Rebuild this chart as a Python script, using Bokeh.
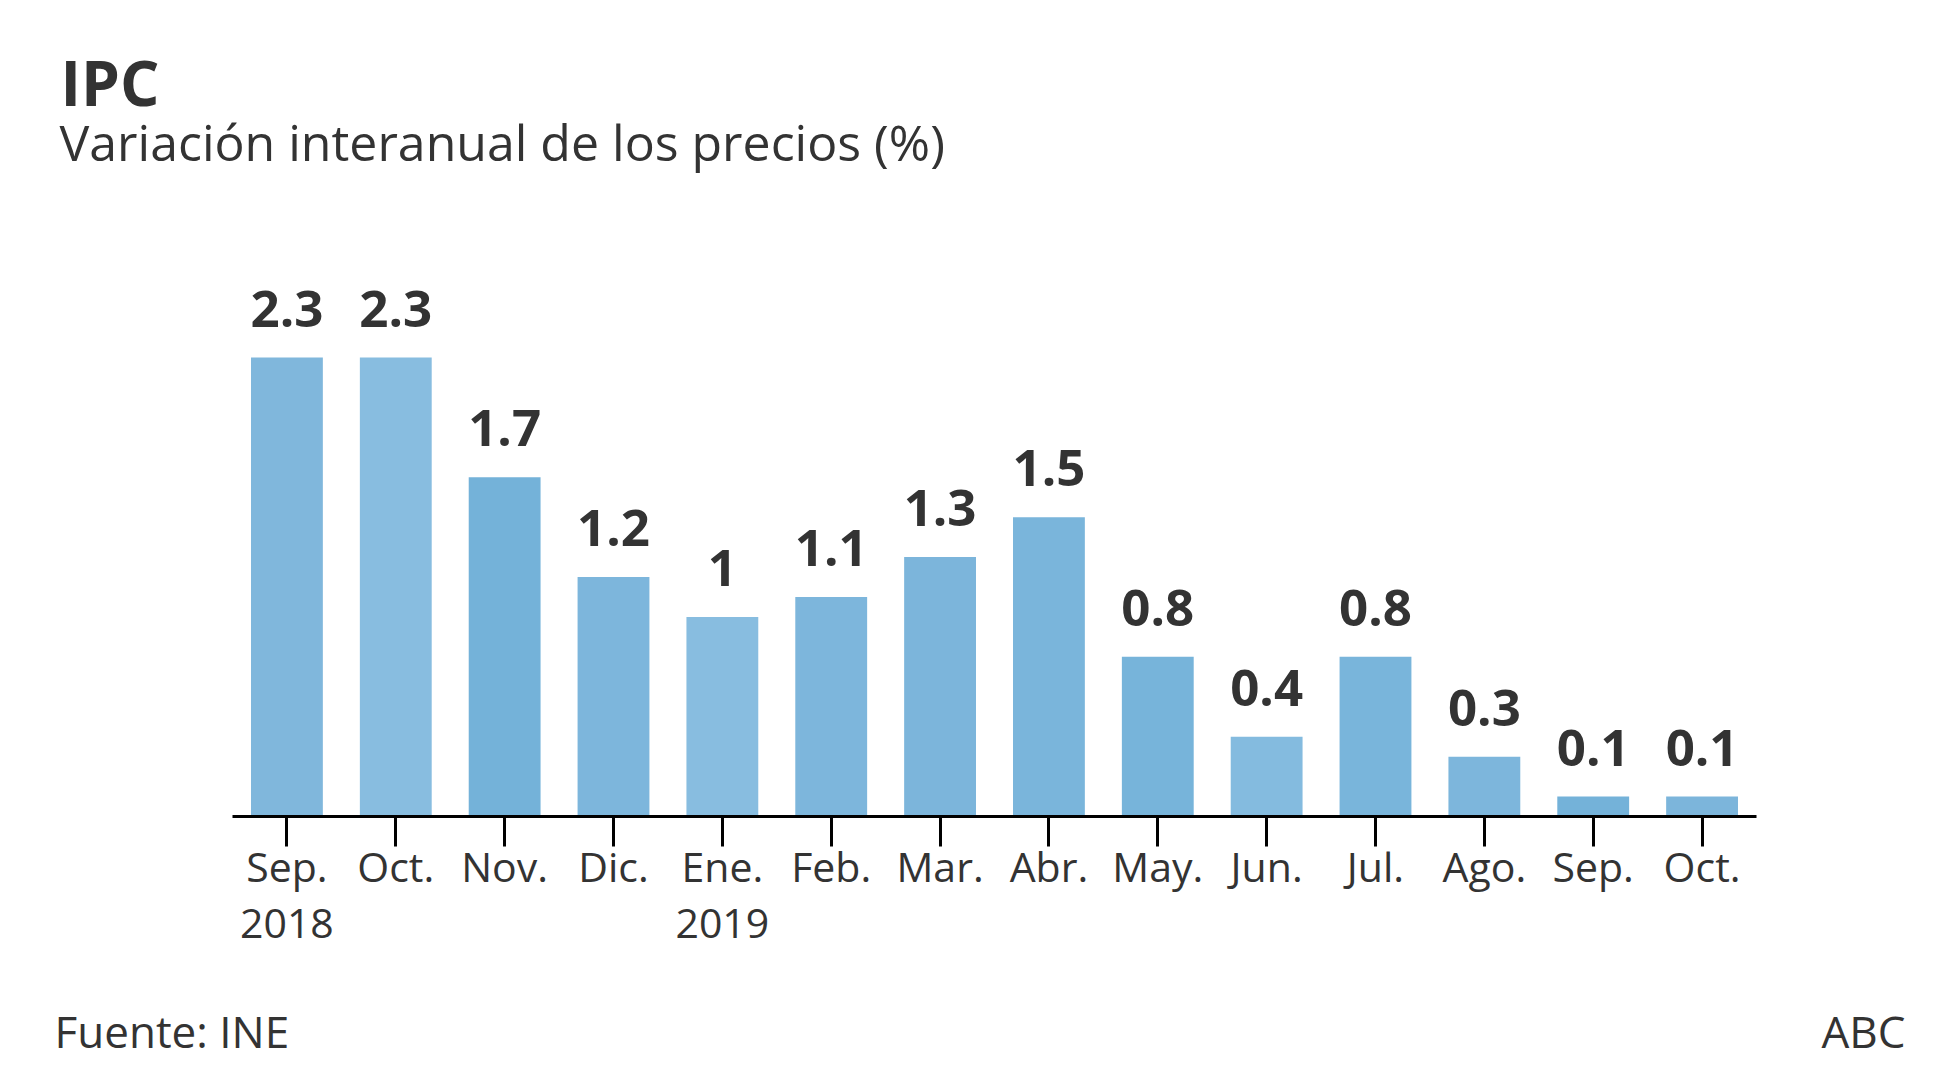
from bokeh.plotting import figure
from bokeh.models import ColumnDataSource, Range1d, FixedTicker
from bokeh.layouts import column
from bokeh.core.properties import value
from bokeh.embed import file_html
from bokeh.resources import INLINE

# ---- data ----
periods = ["2018-09", "2018-10", "2018-11", "2018-12", "2019-01", "2019-02", "2019-03",
           "2019-04", "2019-05", "2019-06", "2019-07", "2019-08", "2019-09", "2019-10"]
month_labels = ["Sep.", "Oct.", "Nov.", "Dic.", "Ene.", "Feb.", "Mar.",
                "Abr.", "May.", "Jun.", "Jul.", "Ago.", "Sep.", "Oct."]
year_labels = ["2018", "", "", "", "2019", "", "", "", "", "", "", "", "", ""]
ipc = [2.3, 2.3, 1.7, 1.2, 1.0, 1.1, 1.3, 1.5, 0.8, 0.4, 0.8, 0.3, 0.1, 0.1]
bar_colors = ["#80b7dc", "#88bde0", "#74b2d9", "#7db6dc", "#88bde0", "#7db6dc", "#7cb5db",
              "#7ab5db", "#77b4da", "#84bbdf", "#79b5db", "#7db6dc", "#74b2d9", "#7cb5db"]

title_text = "IPC"
subtitle_text = "Variación interanual de los precios (%)"
source_text = "Fuente: INE"
brand_text = "ABC"

FONT = "Open Sans"
TXT = "#333333"

W = 1921
HEAD_H, MAIN_H, FOOT_H = 180, 808, 86


def text_panel(height):
    f = figure(width=W, height=height, x_range=Range1d(0, W), y_range=Range1d(height, 0),
               output_backend="svg", toolbar_location=None,
               x_axis_location=None, y_axis_location=None, min_border=0,
               background_fill_color="white", border_fill_color="white",
               frame_align=False)
    f.outline_line_color = None
    f.xgrid.visible = False
    f.ygrid.visible = False
    return f


def put(f, text, x, y, size, bold=False, align="left"):
    f.text(x=[x], y=[y], text=[text], text_font=value(FONT), text_font_size=size,
           text_font_style="bold" if bold else "normal", text_color=TXT,
           text_align=align, text_baseline="alphabetic")


# ---- header ----
head = text_panel(HEAD_H)
put(head, title_text, 60, 81, "62px", bold=True)
put(head, subtitle_text, 59, 141, "50px")

# ---- main chart ----
xs = list(range(len(periods)))
src = ColumnDataSource(dict(
    x=xs, y=ipc, color=bar_colors,
    lab=[f"{v:g}" for v in ipc],
))

frame_left, frame_right, frame_bottom = 232, 1756, 636
main = figure(width=W, height=MAIN_H, x_range=Range1d(-0.5, len(periods) - 0.5),
              y_range=Range1d(0, 3.187),
              output_backend="svg", toolbar_location=None, y_axis_location=None,
              min_border_left=frame_left, min_border_right=W - frame_right,
              min_border_top=0, min_border_bottom=MAIN_H - frame_bottom,
              background_fill_color="white", border_fill_color="white",
              frame_align=False)
main.outline_line_color = None
main.xgrid.grid_line_color = None
main.ygrid.grid_line_color = None

main.vbar(x="x", top="y", width=0.66, source=src, fill_color="color", line_color=None)
main.text(x="x", y="y", text="lab", source=src, text_align="center", text_baseline="alphabetic",
          y_offset=-49, text_font=value(FONT), text_font_style="bold",
          text_font_size="51px", text_color=TXT)

ax = main.xaxis[0]
ax.ticker = FixedTicker(ticks=xs)
ax.axis_line_width = 3
ax.axis_line_color = "black"
ax.major_tick_line_width = 3
ax.major_tick_line_color = "black"
ax.major_tick_out = 30
ax.major_tick_in = 0
ax.minor_tick_out = 0
ax.minor_tick_in = 0
ax.major_label_standoff = -9
ax.major_label_text_font = FONT
ax.major_label_text_font_size = "41px"
ax.major_label_text_color = TXT
ax.major_label_text_line_height = 1.0
ax.major_label_overrides = {
    i: (m + "\n" + y if y else m) for i, m, y in zip(xs, month_labels, year_labels)
}

# ---- footer ----
foot = text_panel(FOOT_H)
put(foot, source_text, 54, 42, "44px")
put(foot, brand_text, 1905, 42, "44px", align="right")

layout = column(head, main, foot, spacing=0)
open("out.html", "w").write(file_html(layout, INLINE))
